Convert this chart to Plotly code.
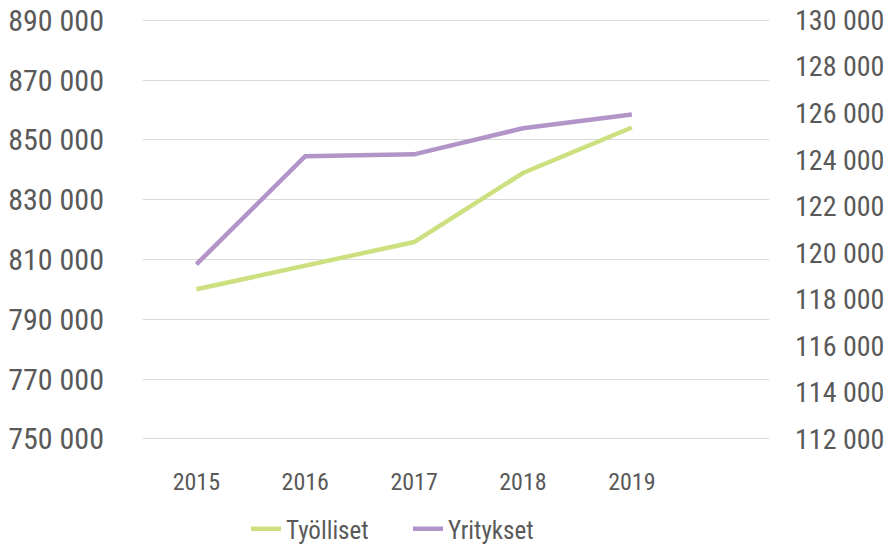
import plotly.graph_objects as go

years = ["2015", "2016", "2017", "2018", "2019"]
tyolliset = [800000, 808000, 815800, 838900, 854100]
yritykset = [119500, 124150, 124230, 125350, 125940]

left_ticks = [750000, 770000, 790000, 810000, 830000, 850000, 870000, 890000]
right_ticks = list(range(112000, 130001, 2000))

def fmt(v):
    return f"{v:,}".replace(",", " ")

FONT = "Roboto Condensed, Liberation Sans Narrow, DejaVu Sans Condensed, sans-serif"
GREY = "#595959"
FS = 30
W, H = 877, 536
xpos = list(range(len(years)))

fig = go.Figure()
fig.add_trace(go.Scatter(x=xpos, y=tyolliset, name="Työlliset", mode="lines",
                         line=dict(color="#cde07f", width=4.5), yaxis="y"))
fig.add_trace(go.Scatter(x=xpos, y=yritykset, name="Yritykset", mode="lines",
                         line=dict(color="#b394c8", width=4.5), yaxis="y2"))

fig.update_layout(
    width=W, height=H,
    margin=dict(l=135, r=116, t=11, b=104, autoexpand=False),
    paper_bgcolor="white", plot_bgcolor="white",
    font=dict(family=FONT, size=FS, color=GREY),
    showlegend=True,
    legend=dict(orientation="h", xref="container", x=238 / W, xanchor="left",
                yref="container", y=(H - 521) / H, yanchor="middle",
                font=dict(size=25, color=GREY), itemwidth=30, tracegroupgap=0,
                entrywidth=117, entrywidthmode="pixels"),
    xaxis=dict(tickmode="array", tickvals=xpos, ticktext=years,
               range=[-0.49, 5.26], showgrid=False, zeroline=False,
               showline=False, ticks="", ticklabelstandoff=25, automargin=False,
               tickfont=dict(size=24, color=GREY)),
    yaxis=dict(range=[749600, 890400], tickvals=left_ticks,
               ticktext=[fmt(v) for v in left_ticks],
               showgrid=True, gridcolor="#d9d9d9", gridwidth=1.3, automargin=False,
               zeroline=False, showline=False, ticks="", ticklabelstandoff=38,
               ticklabeloverflow="allow",
               tickfont=dict(size=FS, color=GREY)),
    yaxis2=dict(range=[111950, 130050], tickvals=right_ticks,
                ticktext=[fmt(v) for v in right_ticks], automargin=False,
                overlaying="y", side="right", showgrid=False,
                zeroline=False, showline=False, ticks="", ticklabelstandoff=25,
                ticklabeloverflow="allow",
                tickfont=dict(size=28, color=GREY)),
)

fig.write_html("out.html")
